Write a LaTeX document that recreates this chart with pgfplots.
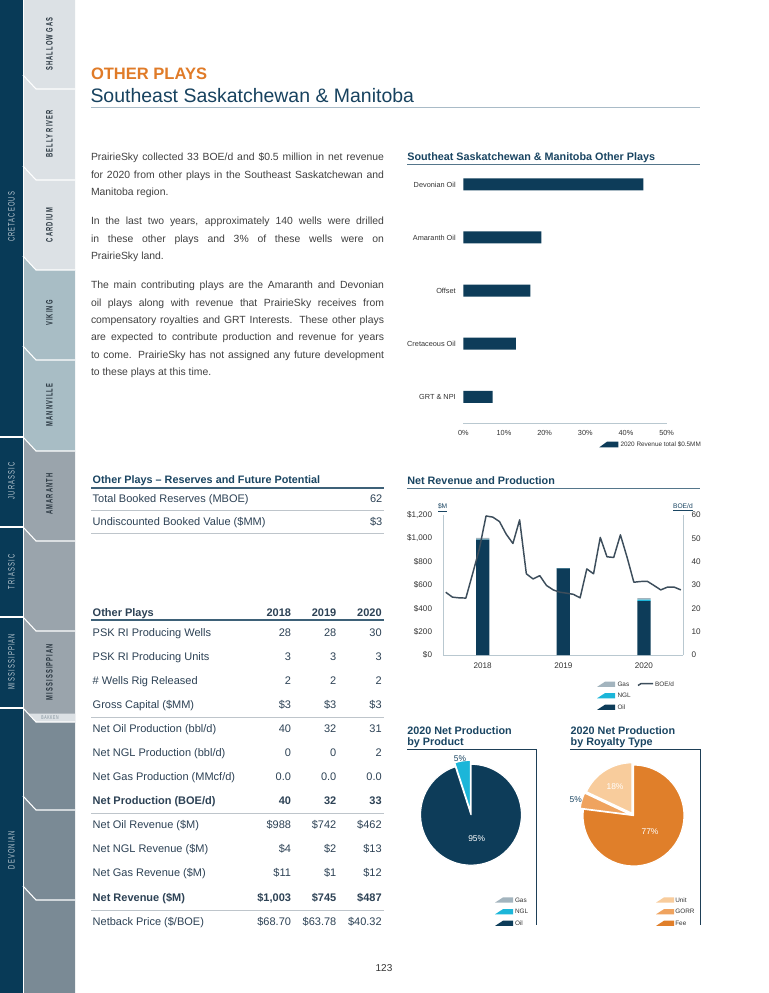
\documentclass[border=0pt]{standalone}
\usepackage{fontspec}
\setmainfont{Liberation Sans}
\newfontfamily\sidefont[FakeStretch=0.62,LetterSpace=12]{Liberation Sans}
\usepackage{pgfplots}
\pgfplotsset{compat=1.18}
\definecolor{navy}{HTML}{0D3C59}
\definecolor{sbnavy}{HTML}{083A57}
\definecolor{tabA}{HTML}{DCE1E5}
\definecolor{tabB}{HTML}{A8BDC5}
\definecolor{tabC}{HTML}{9AA4AC}
\definecolor{tabD}{HTML}{7A8A95}
\definecolor{sbtext}{HTML}{BAC7D0}
\definecolor{tabtxt}{HTML}{27343E}
\definecolor{hdrorange}{HTML}{E07B28}
\definecolor{hnavy}{HTML}{17425F}
\definecolor{ruleA}{HTML}{A9BBC7}
\definecolor{bodytxt}{HTML}{404040}
\definecolor{ttl}{HTML}{1A4562}
\definecolor{ttlrule}{HTML}{55768B}
\definecolor{axgray}{HTML}{B9C8D0}
\definecolor{lbl}{HTML}{333333}
\definecolor{ngl}{HTML}{1CB6D9}
\definecolor{gas}{HTML}{A3B4BE}
\definecolor{boe}{HTML}{3D4E5C}
\definecolor{fee}{HTML}{E07F2A}
\definecolor{gorr}{HTML}{EFA35F}
\definecolor{unit}{HTML}{F8CC9C}
\definecolor{tabtext}{HTML}{2D4255}
\definecolor{thinrule}{HTML}{BEC5CB}
\definecolor{tblrule}{HTML}{3E6178}
\definecolor{pieline}{HTML}{1E3F57}
\newcommand\bodyfont{\fontsize{7.8pt}{13.05pt}\selectfont}
\newcommand\tabfont{\fontsize{8.25pt}{10pt}\selectfont}
\newcommand\ttlfont{\bfseries\fontsize{8.1pt}{10pt}\selectfont}
\newcommand\legfont{\fontsize{4.8pt}{6pt}\selectfont}
\newcommand\pieslice[5]{%
  \fill[#3, draw=white, line width=0.9pt, line join=round]
   ([shift={({90-1.8*(#1+#2)}:#4)}]axis cs:0,0) -- ++({90-3.6*#2}:#5)
   arc[start angle={90-3.6*#2}, end angle={90-3.6*#1}, radius=#5] -- cycle;}
\newcommand\swatch[3]{\fill[#3] ({#1},{#2+2.6}) -- ({#1+18},{#2+2.6}) -- ({#1+18},{#2-2.6}) -- ({#1+8},{#2-2.6}) -- cycle;}
\begin{document}
\begin{tikzpicture}[x=0.75pt,y=-0.75pt, t/.style={inner sep=0pt, outer sep=0pt}]
\useasboundingbox (0,0) rectangle (768,993);
\fill[white] (0,0) rectangle (768,993);
% ---------------- sidebar
\fill[sbnavy] (0,0) rectangle (23.5,993);
\fill[tabA] (23,0) -- (75,0) -- (75,270) -- (36,270) -- (23,256) -- cycle;
\fill[tabB] (23,256) -- (36,270) -- (75,270) -- (75,451) -- (36,451) -- (23,437) -- cycle;
\fill[tabC] (23,437) -- (36,451) -- (75,451) -- (75,722) -- (36,722) -- (23,708) -- cycle;
\fill[tabD] (23,708) -- (36,722) -- (75,722) -- (75,993) -- (23,993) -- cycle;
\fill[tabA] (29,713.5) -- (75,713.5) -- (75,722) -- (36,722) -- cycle;
\draw[white, line width=0.4pt] (23.2,0) -- (23.2,993);
\foreach \b in {89,180,270,360,451,541,631,722,810,900}
  \draw[white, line width=0.8pt] (23,{\b-14}) -- (36,\b) -- (75,\b);
\foreach \yy in {437,527,617,708}
  \draw[white, line width=0.8pt] (0,\yy) -- (23,\yy);
\begin{scope}[every node/.append style={t, rotate=90, font=\sidefont\fontsize{7pt}{8pt}\selectfont, text=sbtext}]
\node at (11.5,217) {CRETACEOUS};
\node at (11.5,481) {JURASSIC};
\node at (11.5,572) {TRIASSIC};
\node at (11.5,662) {MISSISSIPPIAN};
\node at (11.5,850) {DEVONIAN};
\end{scope}
\begin{scope}[every node/.append style={t, rotate=90, font=\sidefont\bfseries\fontsize{7pt}{8pt}\selectfont, text=tabtxt}]
\node at (49.5,44) {SHALLOW GAS};
\node at (49.5,134) {BELLY RIVER};
\node at (49.5,225) {CARDIUM};
\node at (49.5,313) {VIKING};
\node at (49.5,405) {MANNVILLE};
\node at (49.5,494) {AMARANTH};
\node at (49.5,672) {MISSISSIPPIAN};
\end{scope}
\node[t, font=\sidefont\fontsize{4.2pt}{5pt}\selectfont, text=tabD] at (50,717.8) {BAKKEN};
% ---------------- header
\node[t, anchor=base west, font=\bfseries\fontsize{12.4pt}{14pt}\selectfont, text=hdrorange] at (91,79) {OTHER PLAYS};
\node[t, anchor=base west, font=\fontsize{14.6pt}{17pt}\selectfont, text=hnavy] at (90.5,102.7) {Southeast Saskatchewan \& Manitoba};
\draw[ruleA, line width=0.75pt] (91,107.2) -- (700,107.2);
% ---------------- body text
\begin{scope}[every node/.append style={t, anchor=north west, text width=219.75pt, align=justify, font=\bodyfont, text=bodytxt}]
\node at (91,148.8) {\strut PrairieSky collected 33 BOE/d and \$0.5 million in net revenue\linebreak for 2020 from other plays in the Southeast Saskatchewan and\linebreak Manitoba region.};
\node at (91,212.6) {\strut In the last two years, approximately 140 wells were drilled\linebreak in these other plays and 3\% of these wells were on\linebreak PrairieSky land.};
\node at (91,276.6) {\strut The main contributing plays are the Amaranth and Devonian\linebreak oil plays along with revenue that PrairieSky receives from\linebreak compensatory royalties and GRT Interests. These other plays\linebreak are expected to contribute production and revenue for years\linebreak to come. PrairieSky has not assigned any future development\linebreak to these plays at this time.};
\end{scope}
% ---------------- tables
\node[t, anchor=base west, font=\ttlfont, text=ttl] at (92.7,483.1) {Other Plays -- Reserves and Future Potential};
\draw[tblrule, line width=1.5pt] (91,487.7) -- (384,487.7);
\begin{scope}[every node/.append style={t, font=\tabfont, text=tabtext}]
\node[anchor=base west] at (92.7,502.5) {Total Booked Reserves (MBOE)};
\node[anchor=base east] at (382.3,502.5) {62};
\node[anchor=base west] at (92.7,525.1) {Undiscounted Booked Value (\$MM)};
\node[anchor=base east] at (382.3,525.1) {\$3};
\end{scope}
\draw[thinrule, line width=0.75pt] (91,510.3) -- (384,510.3);
\draw[thinrule, line width=0.75pt] (91,533.3) -- (384,533.3);
\newcommand\trow[6][]{%
  \node[t, anchor=base west, font=\tabfont#1, text=tabtext] at (92.7,#2) {#3};
  \node[t, anchor=base east, font=\tabfont#1, text=tabtext] at (291,#2) {#4};
  \node[t, anchor=base east, font=\tabfont#1, text=tabtext] at (336.3,#2) {#5};
  \node[t, anchor=base east, font=\tabfont#1, text=tabtext] at (381.7,#2) {#6};}
\trow[\bfseries]{616}{Other Plays}{2018}{2019}{2020}
\draw[tblrule, line width=1.5pt] (91,620.3) -- (384,620.3);
\trow{636.5}{PSK RI Producing Wells}{28}{28}{30}
\trow{660.5}{PSK RI Producing Units}{3}{3}{3}
\trow{684.5}{\# Wells Rig Released}{2}{2}{2}
\trow{708.5}{Gross Capital (\$MM)}{\$3}{\$3}{\$3}
\draw[thinrule, line width=0.75pt] (91,717.3) -- (384,717.3);
\trow{732.8}{Net Oil Production (bbl/d)}{40}{32}{31}
\trow{756.8}{Net NGL Production (bbl/d)}{0}{0}{2}
\trow{780.8}{Net Gas Production (MMcf/d)}{0.0}{0.0}{0.0}
\trow[\bfseries\color{navy}]{804.8}{Net Production (BOE/d)}{40}{32}{33}
\draw[thinrule, line width=0.75pt] (91,813.7) -- (384,813.7);
\trow{828.8}{Net Oil Revenue (\$M)}{\$988}{\$742}{\$462}
\trow{852.8}{Net NGL Revenue (\$M)}{\$4}{\$2}{\$13}
\trow{876.8}{Net Gas Revenue (\$M)}{\$11}{\$1}{\$12}
\trow[\bfseries\color{navy}]{901.1}{Net Revenue (\$M)}{\$1,003}{\$745}{\$487}
\draw[thinrule, line width=0.75pt] (91,910) -- (384,910);
\trow{925.1}{Netback Price (\$/BOE)}{\$68.70}{\$63.78}{\$40.32}
% ---------------- chart 1
\node[t, anchor=base west, font=\ttlfont, text=ttl] at (407.3,160) {Southeat Saskatchewan \& Manitoba Other Plays};
\draw[ttlrule, line width=1.1pt] (407,164.5) -- (700,164.5);
\begin{axis}[
  at={(347.475pt,-317.475pt)}, anchor=south west, scale only axis,
  width=152.5pt, height=199.1pt,
  xbar, bar width=9pt,
  xmin=0, xmax=50, ymin=-0.5, ymax=4.5,
  axis lines*=left,
  y axis line style={draw=none},
  x axis line style={draw=axgray, line width=0.6pt},
  major tick length=0pt,
  xtick={0,10,20,30,40,50},
  xticklabel={\pgfmathprintnumber{\tick}\%},
  ytick={0,1,2,3,4},
  yticklabels={GRT \& NPI, Cretaceous Oil, Offset, Amaranth Oil, Devonian Oil},
  tick label style={font=\fontsize{5.5pt}{6pt}\selectfont, text=lbl, inner sep=0pt},
  xticklabel style={yshift=-5pt},
  yticklabel style={xshift=-5.5pt},
  /pgf/number format/assume math mode=true,
  clip=false,
]
\addplot[fill=navy, draw=none] coordinates {(7.2,0) (12.9,1) (16.5,2) (19.2,3) (44.3,4)};
\end{axis}
\fill[navy] (599.3,447.3) -- (618.3,447.3) -- (618.3,441.7) -- (607,441.7) -- cycle;
\node[t, anchor=west, font=\legfont, text=lbl] at (620.5,444.5) {2020 Revenue total \$0.5MM};
% ---------------- chart 2
\node[t, anchor=base west, font=\ttlfont, text=ttl] at (407.3,484) {Net Revenue and Production};
\draw[ttlrule, line width=1.1pt] (407,488.5) -- (700,488.5);
\begin{axis}[
  at={(332.475pt,-491.25pt)}, anchor=south west, scale only axis,
  width=180pt, height=105pt,
  xmin=-0.36, xmax=35.36, ymin=0, ymax=1200,
  ybar stacked, bar width=10pt,
  axis lines*=left,
  axis line style={draw=axgray, line width=0.6pt},
  major tick length=0pt,
  xtick={5.5,17.5,29.5}, xticklabels={2018,2019,2020},
  ytick={0,200,400,600,800,1000,1200},
  yticklabel={\$\pgfmathprintnumber{\tick}},
  scaled y ticks=false,
  /pgf/number format/1000 sep={,},
  /pgf/number format/assume math mode=true,
  tick label style={font=\fontsize{6.1pt}{7pt}\selectfont, text=lbl, inner sep=0pt},
  xticklabel style={yshift=-5.5pt},
  yticklabel style={xshift=-8.25pt},
]
\addplot[fill=navy, draw=none] coordinates {(5.5,988) (17.5,742) (29.5,462)};
\addplot[fill=ngl, draw=none] coordinates {(5.5,4) (17.5,2) (29.5,13)};
\addplot[fill=gas, draw=none] coordinates {(5.5,11) (17.5,1) (29.5,12)};
\end{axis}
\begin{axis}[
  at={(332.475pt,-491.25pt)}, anchor=south west, scale only axis,
  width=180pt, height=105pt,
  xmin=-0.36, xmax=35.36, ymin=0, ymax=60,
  axis y line*=right, axis x line=none, xtick=\empty,
  axis line style={draw=axgray, line width=0.6pt},
  major tick length=0pt,
  ytick={0,10,20,30,40,50,60},
  /pgf/number format/assume math mode=true,
  tick label style={font=\fontsize{6.1pt}{7pt}\selectfont, text=lbl, inner sep=0pt},
  yticklabel style={xshift=6pt},
]
\addplot[boe, line width=1.1pt, mark=none, line join=round] coordinates {
 (0,26.9) (1,24.8) (2,24.5) (3,24.4) (4,34.8) (5,45.4) (6,59.6) (7,59.1) (8,57.2) (9,51.8) (10,47.8) (11,57.9)
 (12,34.8) (13,32.6) (14,34.0) (15,29.8) (16,27.9) (17,26.9) (18,26.5) (19,26.0) (20,24.5) (21,36.9) (22,34.8) (23,50.4)
 (24,42.1) (25,41.8) (26,51.5) (27,41.8) (28,31.2) (29,31.5) (30,31.6) (31,29.8) (32,27.9) (33,29.1) (34,29.1) (35,27.9)};
\end{axis}
\node[t, anchor=base west, font=\fontsize{5pt}{6pt}\selectfont, text=ttl] at (438,508.5) {\underline{\$M}};
\node[t, anchor=base east, font=\fontsize{5pt}{6pt}\selectfont, text=ttl] at (692.7,508.5) {\underline{BOE/d}};
\swatch{597}{684.3}{gas}
\swatch{597}{695.7}{ngl}
\swatch{597}{707.3}{navy}
\node[t, anchor=west, font=\legfont, text=lbl] at (617.5,684.3) {Gas};
\node[t, anchor=west, font=\legfont, text=lbl] at (617.5,695.7) {NGL};
\node[t, anchor=west, font=\legfont, text=lbl] at (617.5,707.3) {Oil};
\draw[boe, line width=1.1pt] (638,685.5) -- (641,683.6) -- (653,683.6);
\node[t, anchor=west, font=\legfont, text=lbl] at (655,684.3) {BOE/d};
% ---------------- pies
\node[t, anchor=base west, font=\ttlfont, text=ttl] at (407.3,734) {2020 Net Production};
\node[t, anchor=base west, font=\ttlfont, text=ttl] at (407.3,745.7) {by Product};
\node[t, anchor=base west, font=\ttlfont, text=ttl] at (570.7,734) {2020 Net Production};
\node[t, anchor=base west, font=\ttlfont, text=ttl] at (570.7,745.7) {by Royalty Type};
\draw[pieline, line width=0.75pt] (407,749.5) -- (536.7,749.5) -- (536.7,925);
\draw[pieline, line width=0.75pt] (570,749.5) -- (700,749.5) -- (700,925);
\begin{axis}[
  at={(353.25pt,-611.03pt)}, anchor=center, hide axis,
  x=37.875pt, y=37.875pt,
  xmin=-1.2, xmax=1.2, ymin=-1.2, ymax=1.2, clip=false,
]
\pieslice{0}{95}{navy}{0pt}{37.875pt}
\pieslice{95}{100}{ngl}{3pt}{37.875pt}
\end{axis}
\begin{axis}[
  at={(475.125pt,-611.625pt)}, anchor=center, hide axis,
  x=37.875pt, y=37.875pt,
  xmin=-1.2, xmax=1.2, ymin=-1.2, ymax=1.2, clip=false,
]
\pieslice{0}{77}{fee}{0pt}{37.875pt}
\pieslice{77}{82}{gorr}{2.5pt}{37.875pt}
\pieslice{82}{100}{unit}{2pt}{37.875pt}
\end{axis}
\node[t, font=\fontsize{6.3pt}{7pt}\selectfont, text=white] at (476.7,838.3) {95\%};
\node[t, font=\fontsize{6.3pt}{7pt}\selectfont, text=ttl] at (460,758.3) {5\%};
\node[t, font=\fontsize{6.3pt}{7pt}\selectfont, text=white] at (650,831.7) {77\%};
\node[t, font=\fontsize{6.3pt}{7pt}\selectfont, text=white] at (615,786.7) {18\%};
\node[t, font=\fontsize{6.3pt}{7pt}\selectfont, text=ttl] at (575.7,800) {5\%};
\swatch{495}{900}{gas}
\swatch{495}{911.7}{ngl}
\swatch{495}{923.3}{navy}
\node[t, anchor=west, font=\legfont, text=lbl] at (515,900) {Gas};
\node[t, anchor=west, font=\legfont, text=lbl] at (515,911.7) {NGL};
\node[t, anchor=west, font=\legfont, text=lbl] at (515,923.3) {Oil};
\swatch{656}{900}{unit}
\swatch{656}{911.7}{gorr}
\swatch{656}{923.3}{fee}
\node[t, anchor=west, font=\legfont, text=lbl] at (675.3,900) {Unit};
\node[t, anchor=west, font=\legfont, text=lbl] at (675.3,911.7) {GORR};
\node[t, anchor=west, font=\legfont, text=lbl] at (675.3,923.3) {Fee};
% page number
\node[t, font=\fontsize{7.5pt}{9pt}\selectfont, text=lbl] at (384,968) {123};
\end{tikzpicture}
\end{document}
